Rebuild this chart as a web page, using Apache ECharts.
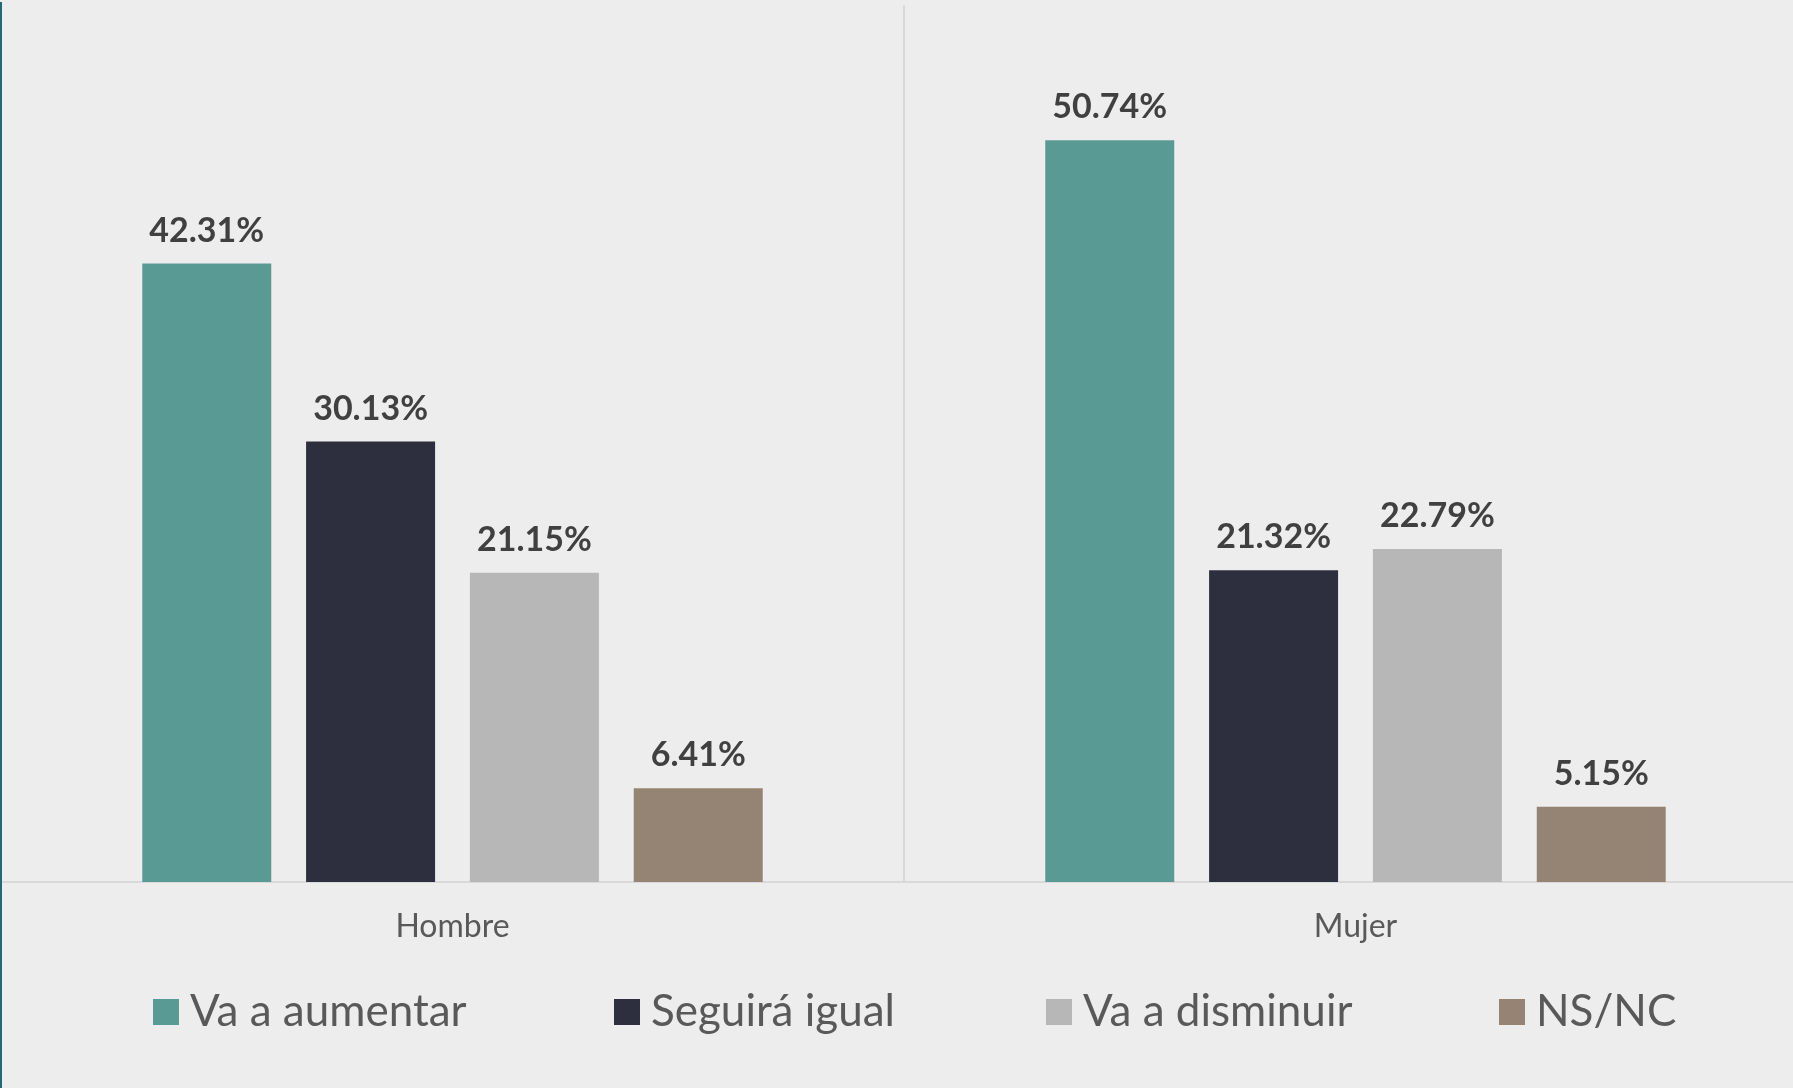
<!DOCTYPE html>
<html>
<head>
<meta charset="utf-8">
<script src="https://cdn.jsdelivr.net/npm/echarts@6/dist/echarts.min.js"></script>
<style>
html,body{margin:0;padding:0;background:#EDEDED;overflow:hidden;width:1793px;height:1088px;}
#chart{position:absolute;left:0;top:0;width:1808px;height:1088px;}
#edge{position:absolute;left:0;top:2px;width:2px;height:1086px;background:#1E6B74;}
</style>
</head>
<body>
<div id="chart"></div>
<div id="edge"></div>
<script>
var categories = ['Hombre', 'Mujer'];
var seriesNames = ['Va a aumentar', 'Seguirá igual', 'Va a disminuir', 'NS/NC'];
var vaAumentar = [42.31, 50.74];
var seguiraIgual = [30.13, 21.32];
var vaDisminuir = [21.15, 22.79];
var nsnc = [6.41, 5.15];
var colors = ['#5A9A95', '#2E2F3E', '#B7B7B7', '#958373'];
var legendLeft = [153, 614, 1046, 1499];

var values = [vaAumentar, seguiraIgual, vaDisminuir, nsnc];
var chart = echarts.init(document.getElementById('chart'));

var legends = seriesNames.map(function (n, i) {
  return {
    data: [n],
    left: legendLeft[i],
    top: 990,
    padding: 0,
    icon: 'rect',
    itemWidth: 26,
    itemHeight: 26,
    selectedMode: false,
    textStyle: {
      fontFamily: 'Lato',
      fontSize: 44,
      color: '#595959',
      padding: [0, 0, 0, 6]
    }
  };
});

var series = seriesNames.map(function (n, i) {
  return {
    name: n,
    type: 'bar',
    data: values[i],
    barWidth: 129,
    barGap: '27%',
    itemStyle: { color: colors[i] },
    label: {
      show: true,
      position: 'top',
      distance: 16,
      fontFamily: 'Lato',
      fontWeight: 'bold',
      fontSize: 34,
      color: '#404040',
      formatter: function (p) { return p.value.toFixed(2) + '%'; }
    }
  };
});

chart.setOption({
  backgroundColor: '#EDEDED',
  animation: false,
  color: colors,
  legend: legends,
  grid: { left: 1, right: 1, top: 5, bottom: 206 },
  xAxis: {
    type: 'category',
    data: categories,
    axisLine: { show: true, lineStyle: { color: '#D9D9D9', width: 2 } },
    axisTick: { show: false },
    splitLine: { show: true, lineStyle: { color: '#D9D9D9', width: 2 } },
    axisLabel: { fontFamily: 'Lato', fontSize: 32, color: '#595959', margin: 29 }
  },
  yAxis: {
    type: 'value',
    min: 0,
    max: 60,
    show: false,
    splitLine: { show: false }
  },
  series: series
});
</script>
</body>
</html>
